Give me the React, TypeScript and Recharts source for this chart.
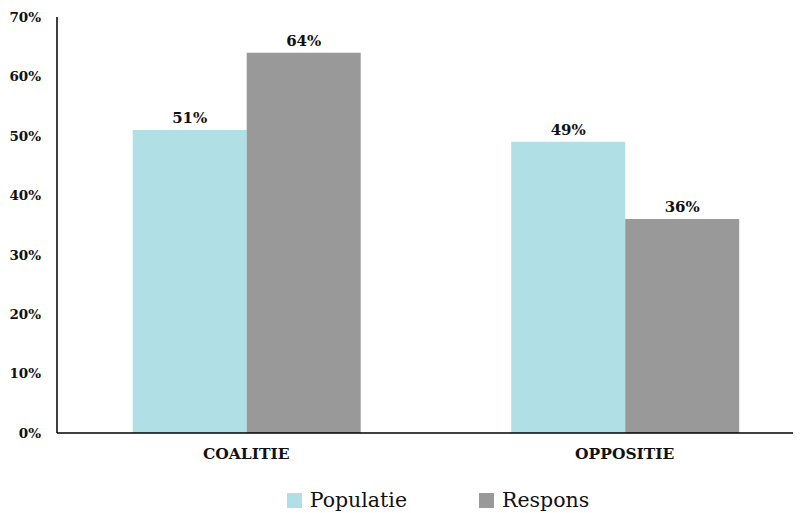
import React from "react";
import { BarChart, Bar, XAxis, YAxis, Legend, LabelList } from "recharts";

const categories = ["COALITIE", "OPPOSITIE"];
const populatie = [51, 49];
const respons = [64, 36];
const yTicks = [0, 10, 20, 30, 40, 50, 60, 70];

const data = categories.map((name, i) => ({
  name,
  Populatie: populatie[i],
  Respons: respons[i],
}));

const FONT = "'DejaVu Serif', 'Liberation Serif', serif";
const COLORS = { Populatie: "#B0DFE5", Respons: "#999999" };

function LegendContent() {
  return (
    <div style={{ display: "flex", justifyContent: "center", gap: 72, fontFamily: FONT, fontSize: 20.5, lineHeight: "24px", color: "#111", paddingTop: 19, paddingLeft: 54 }}>
      {(["Populatie", "Respons"] as const).map((k) => (
        <div key={k} style={{ display: "flex", alignItems: "center", gap: 8 }}>
          <span style={{ width: 15, height: 15, background: COLORS[k], display: "inline-block" }} />
          <span>{k}</span>
        </div>
      ))}
    </div>
  );
}

const labelStyle = { fontFamily: FONT, fontSize: 15, fontWeight: 700, fill: "#111" };

export default function App() {
  return (
    <div style={{ width: 793, height: 505, overflow: "hidden" }}>
      <BarChart
        width={806}
        height={505}
        data={data}
        margin={{ top: 9, right: 0, bottom: 0, left: 0 }}
        barCategoryGap="20%"
        barGap={0}
      >
        <YAxis
          domain={[0, 70]}
          ticks={yTicks}
          tickFormatter={(v) => `${v}%`}
          width={49}
          axisLine={{ stroke: "#000", strokeWidth: 1.5 }}
          tickLine={false}
          tickMargin={10}
          tick={{ fontFamily: FONT, fontSize: 13.5, fontWeight: 700, fill: "#111" }}
        />
        <XAxis
          dataKey="name"
          axisLine={{ stroke: "#000", strokeWidth: 1.5 }}
          tickLine={false}
          tickMargin={9}
          height={36}
          tick={{ fontFamily: FONT, fontSize: 15.5, fontWeight: 700, fill: "#111" }}
        />
        <Legend verticalAlign="bottom" height={44} content={<LegendContent />} />
        <Bar dataKey="Populatie" fill={COLORS.Populatie} isAnimationActive={false}>
          <LabelList dataKey="Populatie" position="top" offset={7} formatter={(v: number) => `${v}%`} style={labelStyle} />
        </Bar>
        <Bar dataKey="Respons" fill={COLORS.Respons} isAnimationActive={false}>
          <LabelList dataKey="Respons" position="top" offset={7} formatter={(v: number) => `${v}%`} style={labelStyle} />
        </Bar>
      </BarChart>
    </div>
  );
}
